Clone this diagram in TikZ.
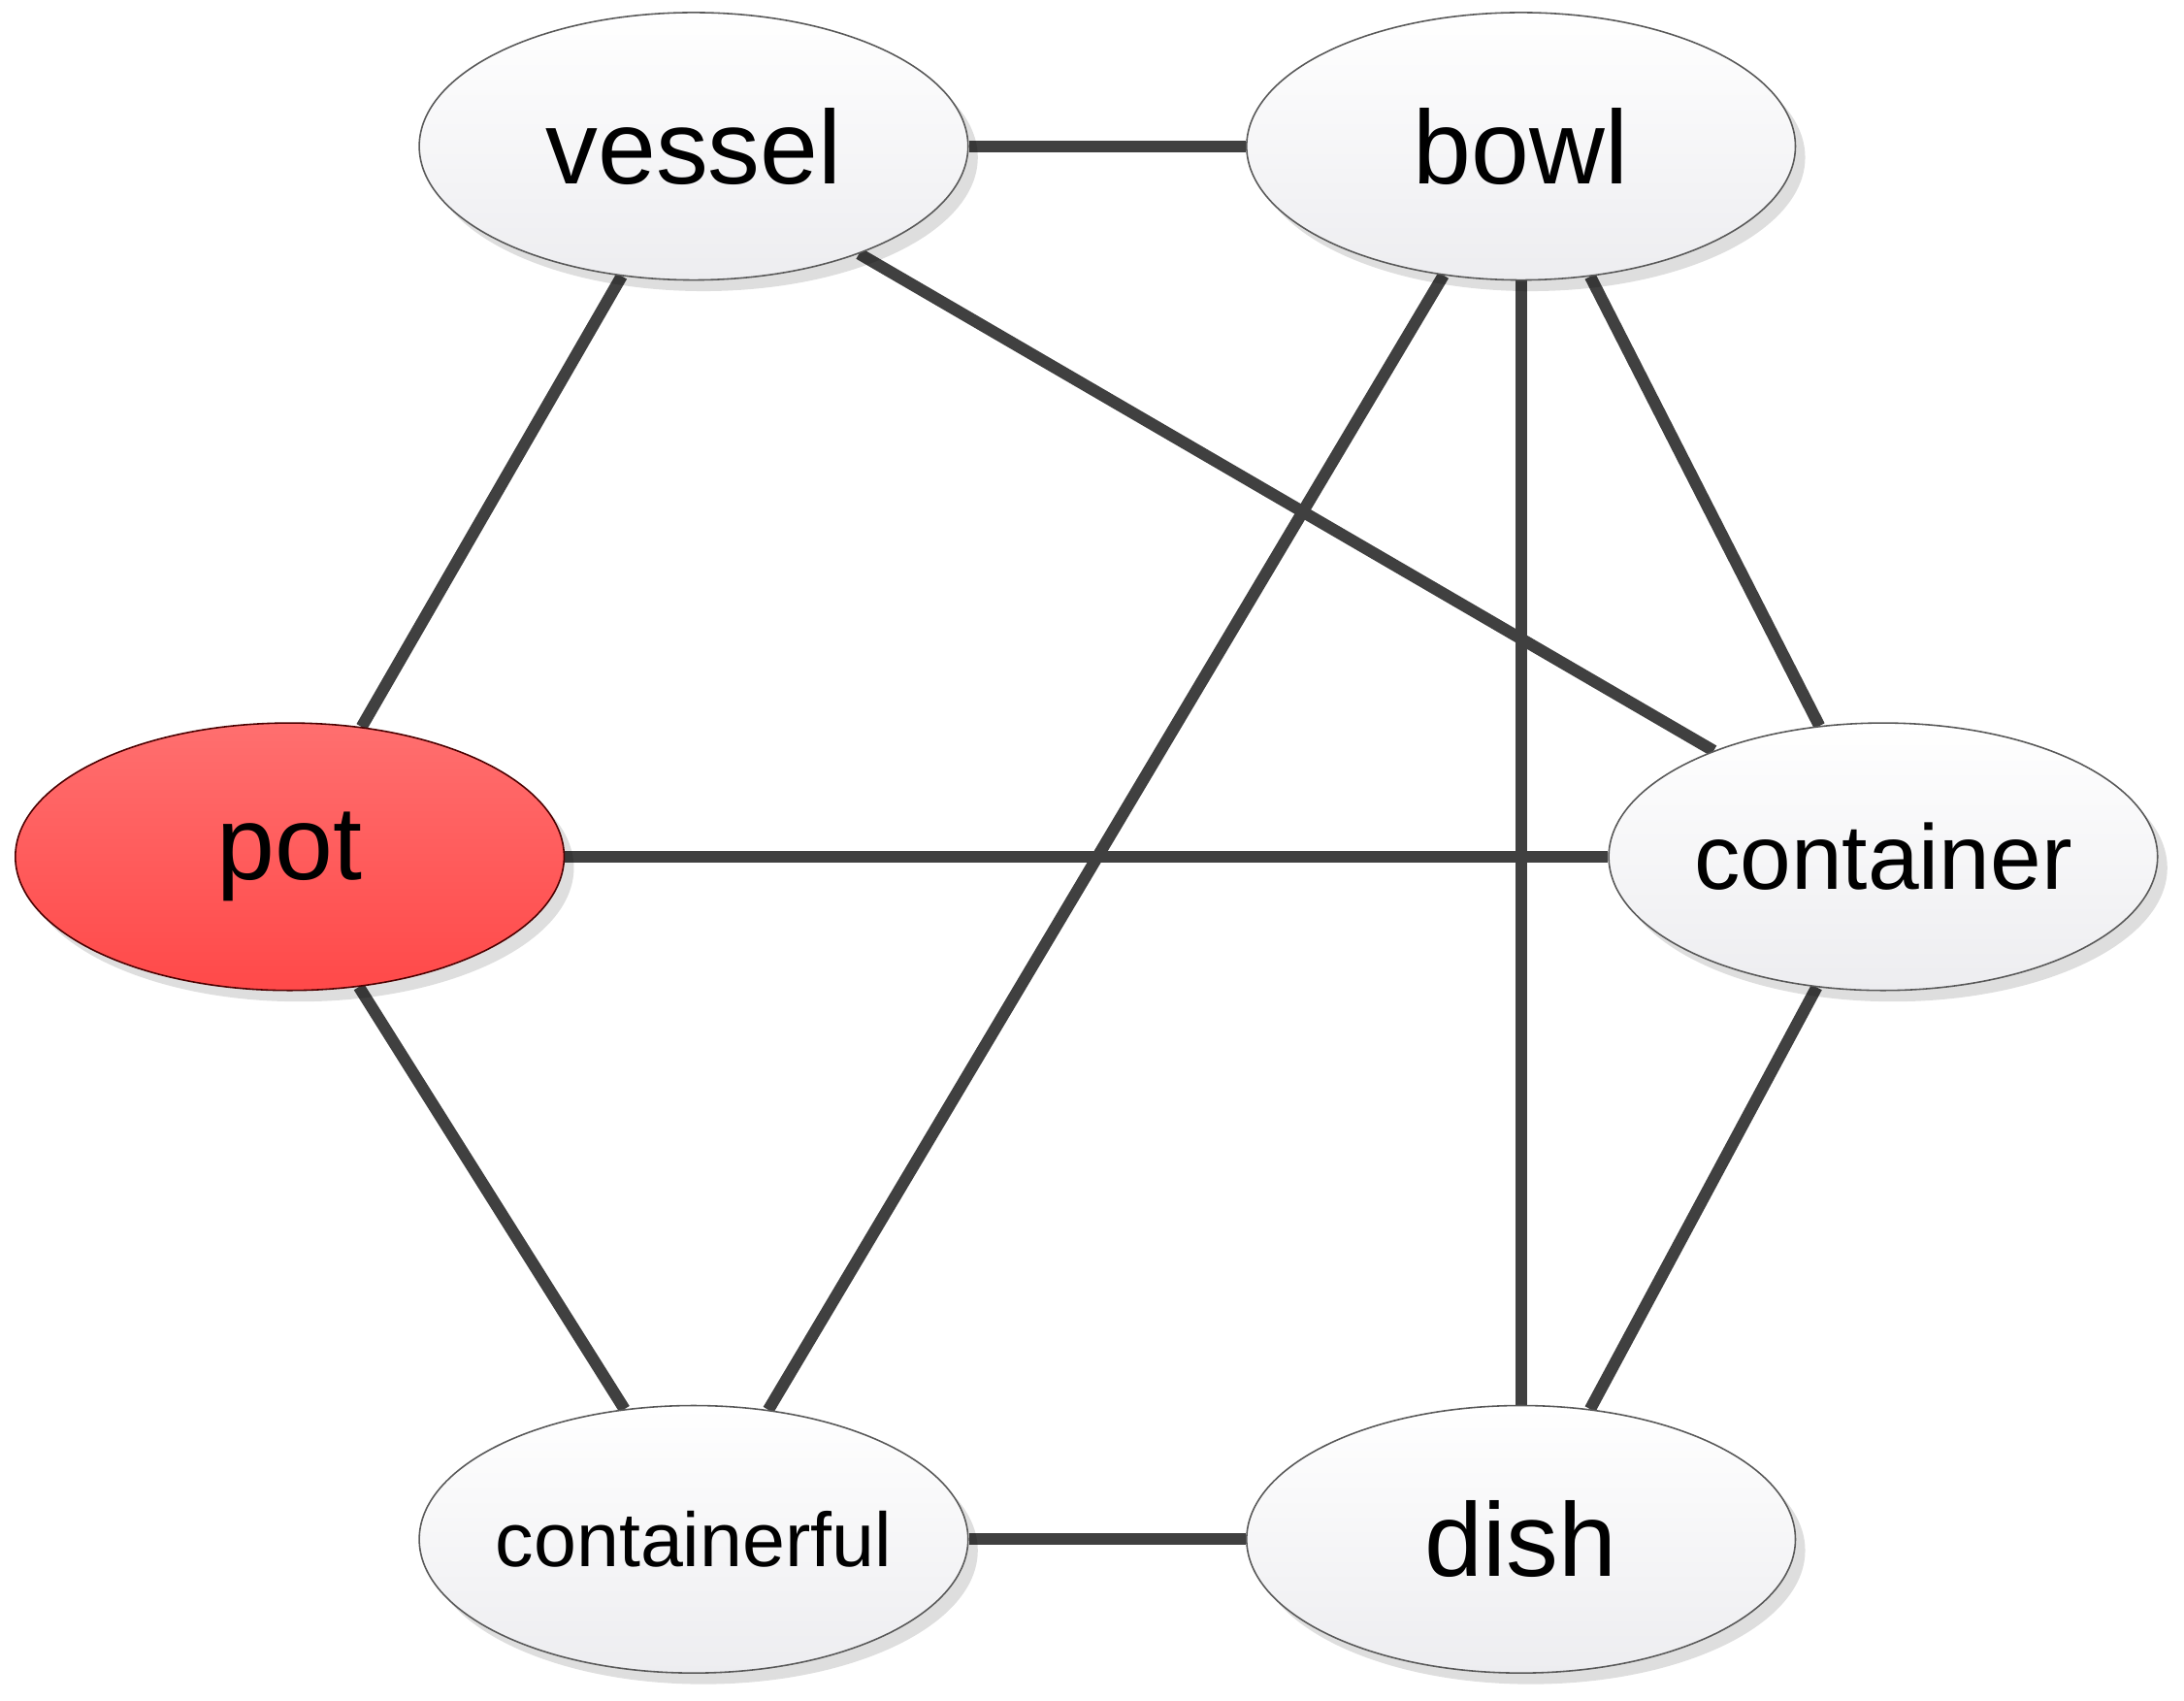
\documentclass[tikz,border=0pt]{standalone}
\usepackage{fontspec}
\setmainfont{Liberation Sans}
\usetikzlibrary{shapes.geometric,shadows,backgrounds}
\definecolor{edgecol}{HTML}{404040}
\definecolor{potTop}{HTML}{FF6F6F}
\definecolor{potBot}{HTML}{FF4949}
\definecolor{nodeBot}{HTML}{EDEDF0}
\tikzset{
  word/.style={ellipse, minimum width=394pt, minimum height=192pt, inner sep=0pt,
    draw=black!65, line width=1.1pt, top color=white, bottom color=nodeBot,
    drop shadow={shadow xshift=7pt, shadow yshift=-8pt, fill=black, opacity=0.13},
    font=\fontsize{75}{80}\selectfont},
  hot/.style={word, top color=potTop, bottom color=potBot, draw=black!70!red},
  link/.style={draw=edgecol, line width=8.5pt}
}
\begin{document}
\begin{tikzpicture}[x=1pt,y=-1pt]
\useasboundingbox (0,0) rectangle (1568,1221);
\node[word] (vessel) at (498,105) {vessel};
\node[word] (bowl) at (1092,105) {bowl};
\node[hot] (pot) at (208,615) {pot};
\node[word, font=\fontsize{66}{70}\selectfont] (container) at (1352,615) {\makebox[0pt]{container}};
\node[word, font=\fontsize{55}{60}\selectfont] (containerful) at (498,1105) {\makebox[0pt]{containerful}};
\node[word] (dish) at (1092,1105) {dish};
\begin{scope}[on background layer]
\draw[link] (vessel.0) -- (bowl.180);
\draw[link] (vessel.241.7) -- (pot.61.7);
\draw[link] (vessel.327.7) -- (container.148.4);
\draw[link] (bowl.239.7) -- (containerful.60.7);
\draw[link] (bowl.270) -- (dish.90);
\draw[link] (bowl.298) -- (container.116.8);
\draw[link] (pot.0) -- (container.180);
\draw[link] (pot.298.3) -- (containerful.118.3);
\draw[link] (container.243.2) -- (dish.62);
\draw[link] (containerful.0) -- (dish.180);
\end{scope}
\end{tikzpicture}
\end{document}
